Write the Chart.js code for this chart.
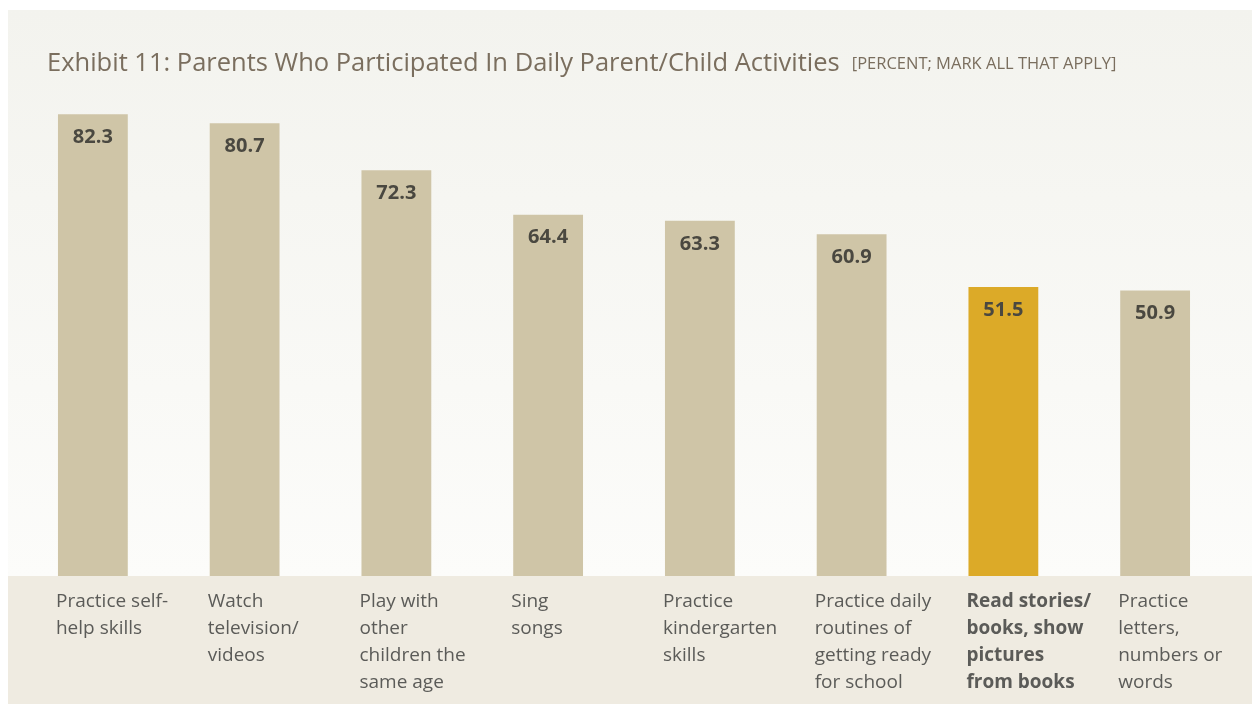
<!DOCTYPE html>
<html>
<head>
<meta charset="utf-8">
<script src="https://cdn.jsdelivr.net/npm/chart.js@4"></script>
<style>
  html, body { margin: 0; padding: 0; background: #ffffff; }
  #wrap { width: 1252px; height: 706px; position: relative; }
</style>
</head>
<body>
<div id="wrap"><canvas id="chart"></canvas></div>
<script>
const categories = [
    ['Practice self-', 'help skills'],
    ['Watch', 'television/', 'videos'],
    ['Play with', 'other', 'children the', 'same age'],
    ['Sing', 'songs'],
    ['Practice', 'kindergarten', 'skills'],
    ['Practice daily', 'routines of', 'getting ready', 'for school'],
    ['Read stories/', 'books, show', 'pictures', 'from books'],
    ['Practice', 'letters,', 'numbers or', 'words']
];
const percents = [82.3, 80.7, 72.3, 64.4, 63.3, 60.9, 51.5, 50.9];
const highlightIndex = 6;

const titleText = 'Exhibit 11: Parents Who Participated In Daily Parent/Child Activities';
const noteText = '[PERCENT; MARK ALL THAT APPLY]';

const FONT = '"Open Sans", "Noto Sans", sans-serif';

const barColors = percents.map((v, i) => i === highlightIndex ? '#dcaa28' : '#cfc5a7');

// panel background, title and bottom band
const backdrop = {
    id: 'backdrop',
    beforeDraw(chart) {
        const c = chart.ctx;
        const bottom = chart.scales.y.getPixelForValue(0);
        c.save();
        c.fillStyle = '#ffffff';
        c.fillRect(0, 0, chart.width, chart.height);
        let g = c.createLinearGradient(0, 10, 0, bottom);
        g.addColorStop(0, '#f3f3ee');
        g.addColorStop(1, '#fcfcfa');
        c.fillStyle = g;
        c.fillRect(8, 10, chart.width - 8, bottom - 10);
        c.fillStyle = '#efebe1';
        c.fillRect(8, bottom, chart.width - 8, chart.height - bottom - 2);

        // title
        c.textBaseline = 'alphabetic';
        c.textAlign = 'left';
        c.fillStyle = '#7a6e5e';
        c.font = '25.5px ' + FONT;
        c.fillText(titleText, 47, 71);
        const w = c.measureText(titleText).width;
        c.font = '16.5px ' + FONT;
        c.fillText(noteText, 47 + w + 12, 69);
        c.restore();
    }
};

// value labels inside bars and category labels under them
const labels = {
    id: 'labels',
    afterDatasetsDraw(chart) {
        const c = chart.ctx;
        const meta = chart.getDatasetMeta(0);
        const xs = chart.scales.x;
        const y0 = chart.scales.y.getPixelForValue(0);
        c.save();
        meta.data.forEach((bar, i) => {
            c.textAlign = 'center';
            c.textBaseline = 'middle';
            c.fillStyle = '#4a4840';
            c.font = 'bold 20px ' + FONT;
            c.fillText(percents[i].toFixed(1), bar.x, bar.y + 23);

            const left = xs.getPixelForValue(i) - bar.width / 2 - 2;
            c.textAlign = 'left';
            c.textBaseline = 'middle';
            c.fillStyle = '#5b5b58';
            c.font = (i === highlightIndex ? 'bold ' : '') + '19px ' + FONT;
            categories[i].forEach((line, k) => {
                c.fillText(line, left, y0 + 26 + k * 27);
            });
        });
        c.restore();
    }
};

const ctx = document.getElementById('chart');

const myChart = new Chart(ctx, {
    type: 'bar',
    data: {
        labels: categories,
        datasets: [
            {
                data: percents,
                backgroundColor: barColors,
                borderWidth: 0,
                barPercentage: 0.46,
                categoryPercentage: 1
            }
        ]
    },
    options: {
        responsive: true,
        maintainAspectRatio: false,
        animation: false,
        layout: {
            padding: { left: 17, right: 21, top: 71, bottom: 130 }
        },
        plugins: {
            legend: { display: false },
            tooltip: { enabled: false }
        },
        scales: {
            x: {
                display: false,
                grid: { display: false }
            },
            y: {
                display: false,
                min: 0,
                max: 90,
                grid: { display: false }
            }
        }
    },
    plugins: [backdrop, labels]
});
</script>
</body>
</html>
